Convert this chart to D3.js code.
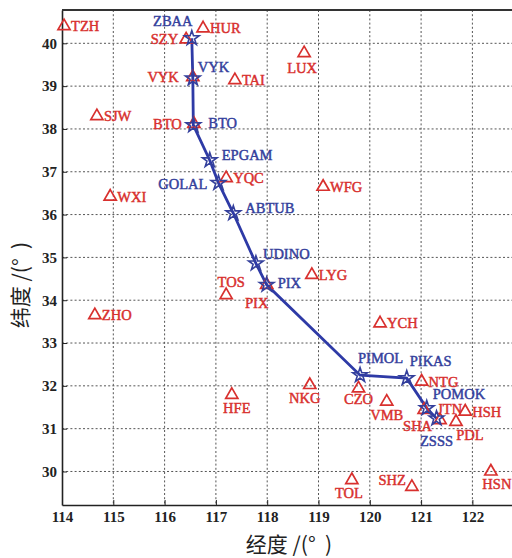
<!DOCTYPE html>
<html>
<head>
<meta charset="utf-8">
<script src="https://cdn.jsdelivr.net/npm/d3@7"></script>
<style>
  body { margin: 0; background: #fff; }
  svg text { font-family: "Liberation Serif", "Times New Roman", serif; }
</style>
</head>
<body>
<svg id="main" width="512" height="558"></svg>
<script>
// route waypoints (blue stars), in flight order
var routeNames = ["ZBAA", "VYK", "BTO", "EPGAM", "GOLAL", "ABTUB", "UDINO", "PIX", "PIMOL", "PIKAS", "POMOK", "ZSSS"];
var routeLon = [116.53, 116.55, 116.56, 116.88, 117.05, 117.34, 117.78, 117.99, 119.81, 120.72, 121.11, 121.30];
var routeLat = [40.12, 39.18, 38.09, 37.27, 36.74, 36.03, 34.86, 34.36, 32.25, 32.18, 31.48, 31.24];

// navaids (red triangles)
var navNames = ["TZH", "HUR", "SZY", "VYK", "TAI", "SJW", "BTO", "LUX", "YQC", "WFG", "WXI", "TOS", "PIX", "LYG",
    "ZHO", "YCH", "HFE", "NKG", "CZO", "VMB", "NTG", "JTN", "HSH", "PDL", "SHA", "TOL", "SHZ", "HSN"];
var navLon = [114.04, 116.75, 116.42, 116.55, 117.37, 114.68, 116.57, 118.72, 117.20, 119.09, 114.94, 117.20, 117.99, 118.87,
    114.64, 120.20, 117.31, 118.83, 119.78, 120.33, 121.01, 121.06, 121.86, 121.68, 121.37, 119.65, 120.82, 122.36];
var navLat = [40.40, 40.35, 40.09, 39.21, 39.14, 38.30, 38.12, 39.77, 36.85, 36.65, 36.42, 34.12, 34.36, 34.59,
    33.65, 33.46, 31.79, 32.02, 31.94, 31.63, 32.10, 31.44, 31.40, 31.16, 31.20, 29.80, 29.64, 30.00];

var xTicks = [114, 115, 116, 117, 118, 119, 120, 121, 122];
var yTicks = [30, 31, 32, 33, 34, 35, 36, 37, 38, 39, 40];

// label placement: [dx, dy, anchor]
var routeLabelPos = {
    ZBAA: [-19, -12, "middle"], VYK: [5, -6, "start"], BTO: [15, 3, "start"], EPGAM: [12, 0, "start"],
    GOLAL: [-11, 6, "end"], ABTUB: [12, 0, "start"], UDINO: [7, -4, "start"], PIX: [11, 3, "start"],
    PIMOL: [-2, -12, "start"], PIKAS: [3, -12, "start"], POMOK: [6, -9, "start"], ZSSS: [0, 28, "middle"]
};
var navLabelPos = {
    SZY: [-8, 5, "end"], VYK: [-14, 5, "end"], BTO: [-12, 5, "end"], LUX: [-2, 20, "middle"],
    TOS: [5, -8, "middle"], PIX: [-10, 23, "middle"], HFE: [5, 18, "middle"], NKG: [-5, 18, "middle"],
    CZO: [0, 16, "middle"], VMB: [0, 18, "middle"], JTN: [13, 4, "start"], PDL: [14, 18, "middle"],
    SHA: [-8, 11, "end"], TOL: [-3, 18, "middle"], SHZ: [-6, -2, "end"], HSN: [6, 18, "middle"]
};

var svg = d3.select("#main"),
    plotLeft = 62, plotRight = 512, plotTop = 10, plotBottom = 505;

var xScale = d3.scaleLinear().domain([114, 114 + (plotRight - plotLeft) / 51.3]).range([plotLeft, plotRight]),
    yScale = d3.scaleLinear().domain([29.217, 40.778]).range([plotBottom, plotTop]);

var red = "#d8302e", blue = "#34409c";

// grid
var grid = svg.append("g").attr("class", "grid")
    .attr("stroke", "#555").attr("stroke-width", 1).attr("stroke-dasharray", "2,2.2");
grid.selectAll(".vg").data(xTicks.slice(1)).enter().append("line")
    .attr("x1", d => xScale(d)).attr("x2", d => xScale(d))
    .attr("y1", plotTop).attr("y2", plotBottom);
grid.selectAll(".hg").data(yTicks).enter().append("line")
    .attr("x1", plotLeft).attr("x2", plotRight)
    .attr("y1", d => yScale(d)).attr("y2", d => yScale(d));

// axes
var xAxis = svg.append("g")
    .attr("transform", "translate(0," + plotBottom + ")")
    .call(d3.axisBottom(xScale).tickValues(xTicks).tickSizeInner(-5).tickSizeOuter(0).tickPadding(6));
var yAxis = svg.append("g")
    .attr("transform", "translate(" + plotLeft + ",0)")
    .call(d3.axisLeft(yScale).tickValues(yTicks).tickSizeInner(-5).tickSizeOuter(0).tickPadding(5));
[xAxis, yAxis].forEach(function(a) {
    a.select(".domain").attr("stroke", "#222").attr("stroke-width", 1.6);
    a.selectAll(".tick line").attr("stroke", "#222");
    a.selectAll(".tick text").attr("fill", "#222").attr("font-size", 15).attr("font-weight", "bold")
        .attr("font-family", "Liberation Serif, serif");
});
svg.append("line").attr("x1", plotLeft).attr("x2", plotRight).attr("y1", plotTop).attr("y2", plotTop)
    .attr("stroke", "#333").attr("stroke-width", 2.2);

// route line
var route = routeNames.map(function(n, i) { return {name: n, lon: routeLon[i], lat: routeLat[i]}; });
var line = d3.line()
    .x(d => xScale(d.lon))
    .y(d => yScale(d.lat));
svg.append("path").datum(route)
    .attr("d", line).attr("fill", "none")
    .attr("stroke", "#2e3aa6").attr("stroke-width", 2.8);

// navaids
var navs = navNames.map(function(n, i) { return {name: n, lon: navLon[i], lat: navLat[i]}; });
var tri = d3.symbol().type(d3.symbolTriangle).size(64);
var ng = svg.append("g").selectAll("g").data(navs).enter().append("g")
    .attr("transform", d => "translate(" + xScale(d.lon) + "," + yScale(d.lat) + ")");
ng.append("path").attr("d", tri).attr("fill", "none").attr("stroke", red).attr("stroke-width", 1.7);
ng.append("text")
    .attr("x", d => (navLabelPos[d.name] || [7])[0])
    .attr("y", d => (navLabelPos[d.name] || [0, 5])[1])
    .attr("text-anchor", d => (navLabelPos[d.name] || [0, 0, "start"])[2])
    .attr("font-size", 14.5).attr("fill", red)
    .attr("stroke", red).attr("stroke-width", 0.45)
    .text(d => d.name);

// waypoints
var star = d3.symbol().type(d3.symbolStar).size(66);
var rg = svg.append("g").selectAll("g").data(route).enter().append("g")
    .attr("transform", d => "translate(" + xScale(d.lon) + "," + yScale(d.lat) + ")");
rg.append("path").attr("d", star).attr("fill", "none").attr("stroke", blue).attr("stroke-width", 1.6);
rg.append("text")
    .attr("x", d => routeLabelPos[d.name][0])
    .attr("y", d => routeLabelPos[d.name][1])
    .attr("text-anchor", d => routeLabelPos[d.name][2])
    .attr("font-size", 14.5).attr("fill", blue)
    .attr("stroke", blue).attr("stroke-width", 0.45)
    .text(d => d.name);

// axis titles
svg.append("text")
    .attr("x", 289).attr("y", 552)
    .attr("text-anchor", "middle").attr("font-size", 21).attr("fill", "#222")
    .style("font-family", "'Noto Sans CJK SC', sans-serif").style("white-space", "pre")
    .text("经度 /(°  )");
svg.append("text")
    .attr("transform", "translate(28,285) rotate(-90)")
    .attr("text-anchor", "middle").attr("font-size", 21).attr("fill", "#222")
    .style("font-family", "'Noto Sans CJK SC', sans-serif").style("white-space", "pre")
    .text("纬度 /(°  )");
</script>
</body>
</html>
